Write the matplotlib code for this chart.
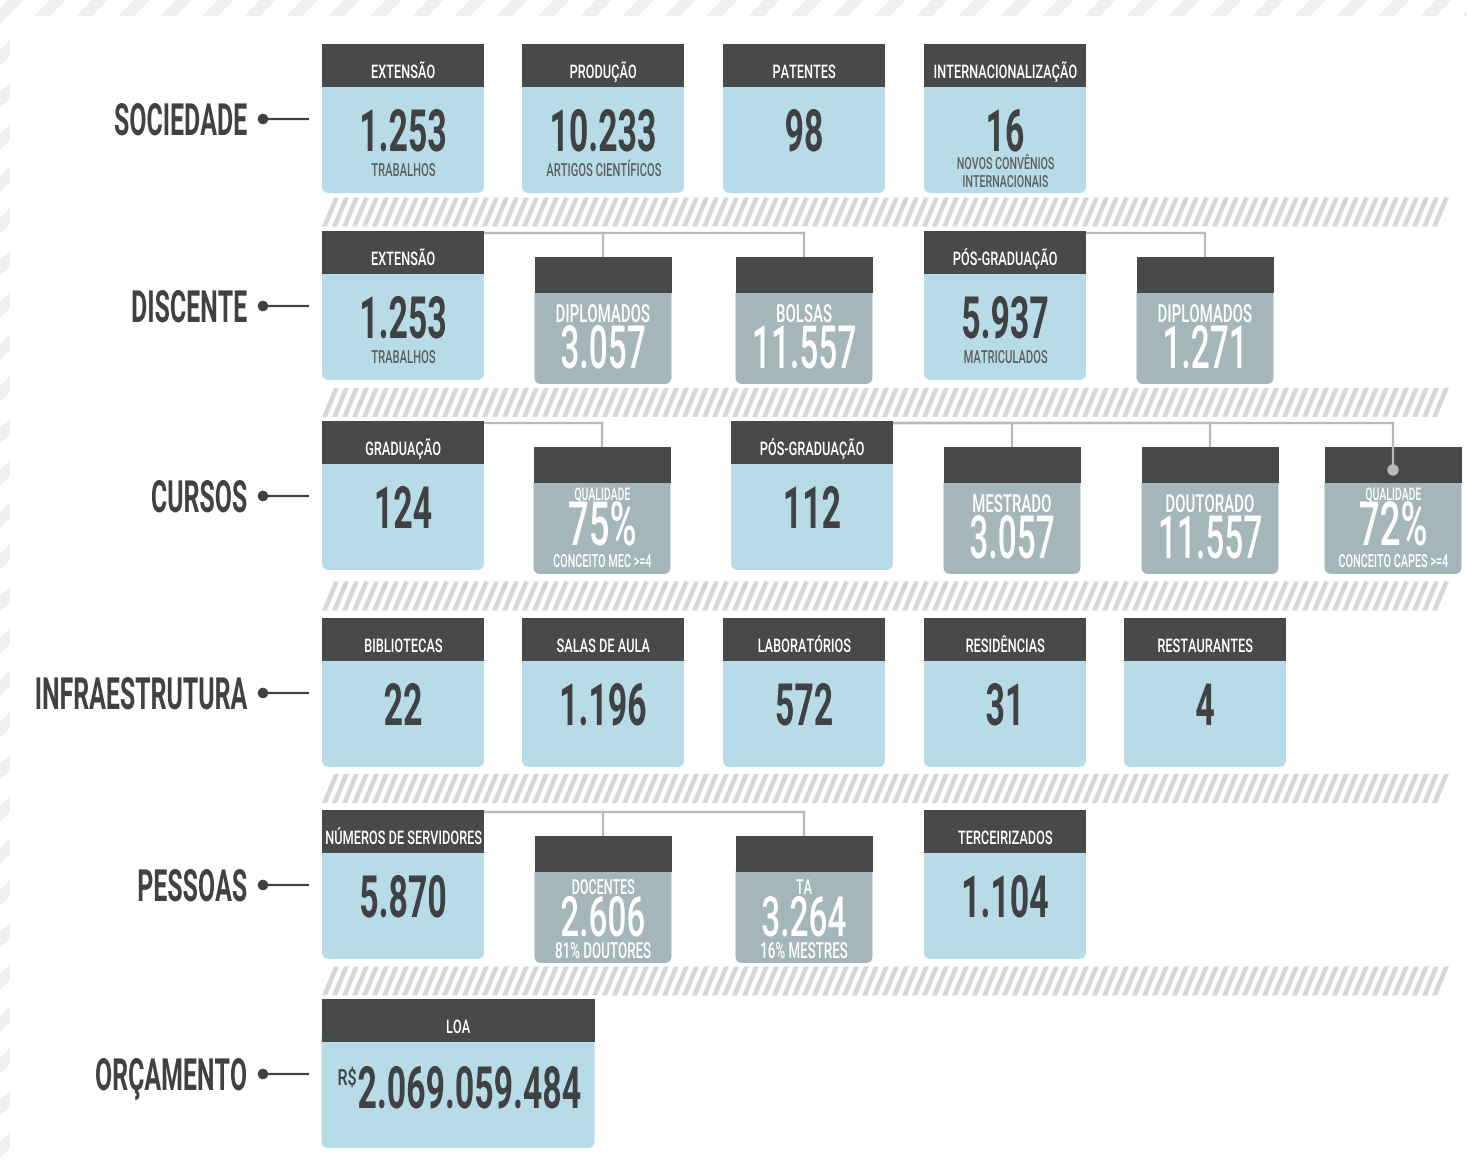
import matplotlib
matplotlib.use('Agg')
import matplotlib.pyplot as plt
from matplotlib.patches import Rectangle, FancyBboxPatch, Circle
from matplotlib.collections import PolyCollection
from matplotlib.patheffects import AbstractPathEffect
from matplotlib.transforms import Affine2D

row_names = ['SOCIEDADE', 'DISCENTE', 'CURSOS', 'INFRAESTRUTURA', 'PESSOAS', 'ORÇAMENTO']

sociedade_titles = ['EXTENSÃO', 'PRODUÇÃO', 'PATENTES', 'INTERNACIONALIZAÇÃO']
sociedade_values = ['1.253', '10.233', '98', '16']
sociedade_notes = ['TRABALHOS', 'ARTIGOS CIENTÍFICOS', '', 'NOVOS CONVÊNIOS\nINTERNACIONAIS']
sociedade_kinds = ['main', 'main', 'main', 'main']

discente_titles = ['EXTENSÃO', 'DIPLOMADOS', 'BOLSAS', 'PÓS-GRADUAÇÃO', 'DIPLOMADOS']
discente_values = ['1.253', '3.057', '11.557', '5.937', '1.271']
discente_notes = ['TRABALHOS', '', '', 'MATRICULADOS', '']
discente_kinds = ['main', 'sub', 'sub', 'main', 'sub']

cursos_titles = ['GRADUAÇÃO', 'QUALIDADE', 'PÓS-GRADUAÇÃO', 'MESTRADO', 'DOUTORADO', 'QUALIDADE']
cursos_values = ['124', '75%', '112', '3.057', '11.557', '72%']
cursos_notes = ['', 'CONCEITO MEC >=4', '', '', '', 'CONCEITO CAPES >=4']
cursos_kinds = ['main', 'sub', 'main', 'sub', 'sub', 'sub']

infra_titles = ['BIBLIOTECAS', 'SALAS DE AULA', 'LABORATÓRIOS', 'RESIDÊNCIAS', 'RESTAURANTES']
infra_values = ['22', '1.196', '572', '31', '4']
infra_notes = ['', '', '', '', '']
infra_kinds = ['main', 'main', 'main', 'main', 'main']

pessoas_titles = ['NÚMEROS DE SERVIDORES', 'DOCENTES', 'TA', 'TERCEIRIZADOS']
pessoas_values = ['5.870', '2.606', '3.264', '1.104']
pessoas_notes = ['', '81% DOUTORES', '16% MESTRES', '']
pessoas_kinds = ['main', 'sub', 'sub', 'main']

orcamento_titles = ['LOA']
orcamento_values = ['2.069.059.484']
orcamento_notes = ['']
orcamento_kinds = ['main']
orcamento_prefix = 'R$'

# ---- layout (pixels) ----
row_tops = [44, 231, 421, 618, 810, 999]
slot_x = [403, 603, 804, 1005, 1205]
row_centers = [slot_x[:4], slot_x, [403, 602, 812, 1012, 1210, 1393], slot_x, slot_x[:4], [458]]
main_w = {5: 273}
dot_ends = [(2, 5)]
# sub cards with a note: (label size, value size, note size, label y, value y, note y)
sub_note_style = {2: (12.5, 44, 13, 79, 124, 146), 4: (15, 40, 16, 84, 126, 148)}

DARK = '#484a49'
BLUE = '#b8dce7'
GREY = '#a4b6ba'
TXT = '#3f4142'
NOTE = '#5d6061'
LINE = '#b9b9b9'
STRIPE = '#d6d6d6'
FONT = ['Roboto', 'DejaVu Sans']


class Tall(AbstractPathEffect):
    # stretches glyphs upward from the baseline -> condensed display look
    def __init__(self, sy=1.7):
        super().__init__()
        self.sy = sy

    def draw_path(self, renderer, gc, tpath, affine, rgbFace=None):
        yb = affine.transform((0, 0))[1]
        aff = affine + Affine2D().translate(0, -yb).scale(1, self.sy).translate(0, yb)
        renderer.draw_path(gc, tpath, aff, rgbFace)


def put(x, y, s, size, color, weight='bold', sx=0.6, ha='center'):
    # size = visual cap-size in pt, sx = horizontal narrowing of the face
    ax.text(x, y, s, fontsize=size * sx, color=color, fontweight=weight, ha=ha, va='baseline',
            family=FONT, zorder=5, path_effects=[Tall(1 / sx)])


fig = plt.figure(figsize=(14.67, 11.66), dpi=100)
ax = fig.add_axes([0, 0, 1, 1])
ax.set_xlim(0, 1467)
ax.set_ylim(1166, 0)
ax.axis('off')

# faint striped frame
frame = []
for x in range(-1200, 1500, 42):
    frame.append([(x, 1166), (x + 16, 1166), (x + 16 + 1166, 0), (x + 1166, 0)])
ax.add_collection(PolyCollection(frame, facecolors='#efefef', edgecolors='none', zorder=0))
ax.add_patch(Rectangle((10, 16), 1467, 1166, facecolor='white', edgecolor='none', zorder=0.5))

rows = [
    (sociedade_titles, sociedade_values, sociedade_notes, sociedade_kinds),
    (discente_titles, discente_values, discente_notes, discente_kinds),
    (cursos_titles, cursos_values, cursos_notes, cursos_kinds),
    (infra_titles, infra_values, infra_notes, infra_kinds),
    (pessoas_titles, pessoas_values, pessoas_notes, pessoas_kinds),
    (orcamento_titles, orcamento_values, orcamento_notes, orcamento_kinds),
]

bottoms = []
for r, (titles, values, notes, kinds) in enumerate(rows):
    top = row_tops[r]
    yc = top + 75
    # row label with dot and stub line
    put(247, yc + 16, row_names[r], 32, TXT, weight='bold', sx=0.56, ha='right')
    ax.plot([263, 309], [yc, yc], color=TXT, lw=1.6, solid_capstyle='butt', zorder=2)
    ax.add_patch(Circle((263, yc), 4.5, color=TXT, zorder=3))

    parent_right = None
    row_bottom = top + 149
    for i, kind in enumerate(kinds):
        cx = row_centers[r][i]
        if kind == 'main':
            w = main_w.get(r, 162)
            x0 = cx - w / 2
            ax.add_patch(FancyBboxPatch((x0, top + 30), w, 119, boxstyle='round,pad=0,rounding_size=7',
                                        facecolor=BLUE, edgecolor='none', zorder=2))
            ax.add_patch(Rectangle((x0, top), w, 43, facecolor=DARK, edgecolor='none', zorder=3))
            put(cx, top + 34, titles[i], 13.5, 'white', weight='medium', sx=0.68)
            note_lines = notes[i].split('\n') if notes[i] else []
            if r == 5:
                put(x0 + 36, top + 109, values[i], 42, TXT, sx=0.58, ha='left')
                put(x0 + 35, top + 86, orcamento_prefix, 16, TXT, weight='medium', sx=0.72, ha='right')
            else:
                put(cx, top + 107, values[i], 42, TXT, sx=0.58)
            if len(note_lines) == 1:
                put(cx, top + 132, note_lines[0], 13, NOTE, weight='medium', sx=0.62)
            elif len(note_lines) == 2:
                put(cx, top + 125, note_lines[0], 12, NOTE, weight='medium', sx=0.64)
                put(cx, top + 143, note_lines[1], 12, NOTE, weight='medium', sx=0.64)
            parent_right = x0 + w
        else:
            w = 137
            x0 = cx - w / 2
            st = top + 26
            ax.add_patch(FancyBboxPatch((x0, st + 30), w, 97, boxstyle='round,pad=0,rounding_size=7',
                                        facecolor=GREY, edgecolor='none', zorder=2))
            ax.add_patch(Rectangle((x0, st), w, 36, facecolor=DARK, edgecolor='none', zorder=3))
            if notes[i]:
                ls, vs, ns, ly_, vy, ny = sub_note_style[r]
                put(cx, top + ly_, titles[i], ls, 'white', weight='medium', sx=0.6)
                put(cx, top + vy, values[i], vs, 'white', weight='medium', sx=0.6)
                put(cx, top + ny, notes[i], ns, 'white', weight='medium', sx=0.6)
            else:
                put(cx, top + 91, titles[i], 18, 'white', weight='medium', sx=0.6)
                put(cx, top + 137, values[i], 43, 'white', weight='medium', sx=0.56)
            row_bottom = top + 153
            # connector from the parent card
            ly = top + 2
            ax.plot([parent_right, cx], [ly, ly], color=LINE, lw=1.6, zorder=1)
            if (r, i) in dot_ends:
                ax.plot([cx, cx], [ly, st + 23], color=LINE, lw=1.6, zorder=4)
                ax.add_patch(Circle((cx, st + 23), 5, color=LINE, zorder=4))
            else:
                ax.plot([cx, cx], [ly, st], color=LINE, lw=1.6, zorder=1)
    bottoms.append(row_bottom)

# hatched separators between rows
for r in range(len(row_tops) - 1):
    mid = (bottoms[r] + row_tops[r + 1]) / 2
    b_top, b_bot = mid - 14.5, mid + 14.5
    stripes = []
    x = 322
    while x + 17 <= 1450:
        stripes.append([(x, b_bot), (x + 5, b_bot), (x + 17, b_top), (x + 12, b_top)])
        x += 10
    ax.add_collection(PolyCollection(stripes, facecolors=STRIPE, edgecolors='none', zorder=1))

fig.savefig('out.png', dpi=100)
